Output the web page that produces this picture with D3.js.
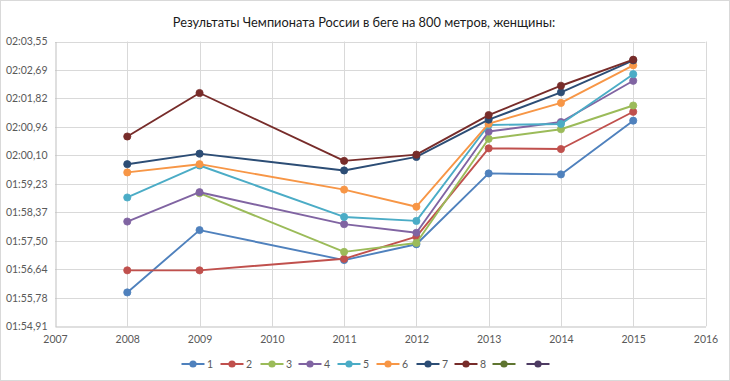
<!DOCTYPE html>
<html>
<head>
<meta charset="utf-8">
<script src="https://cdn.jsdelivr.net/npm/d3@7"></script>
<style>
  html, body { margin: 0; padding: 0; background: #fff; }
  svg { display: block; }
  text { font-family: Lato, "Open Sans", sans-serif; }
</style>
</head>
<body>
<script>
// ---- data ----
const years = [2008, 2009, 2011, 2012, 2013, 2014, 2015];
const seriesNames = ["1", "2", "3", "4", "5", "6", "7", "8", "", ""];
// results in seconds
const s1 = [115.94, 117.83, 116.92, 117.40, 119.55, 119.52, 121.15];
const s2 = [116.61, 116.61, 116.96, 117.63, 120.31, 120.29, 121.42];
const s3 = [null,   118.95, 117.17, 117.44, 120.60, 120.89, 121.61];
const s4 = [118.09, 118.98, 118.01, 117.75, 120.82, 121.11, 122.36];
const s5 = [118.82, 119.79, 118.23, 118.11, 121.02, 121.05, 122.56];
const s6 = [119.58, 119.83, 119.06, 118.54, 121.06, 121.69, 122.83];
const s7 = [119.83, 120.15, 119.64, 120.05, 121.18, 122.01, 122.98];
const s8 = [120.67, 121.99, 119.93, 120.12, 121.32, 122.21, 123.00];
const s9 = [];
const s10 = [];
const seriesValues = [s1, s2, s3, s4, s5, s6, s7, s8, s9, s10];
const colors = ["#4F81BD", "#C0504D", "#9BBB59", "#8064A2", "#4BACC6", "#F79646",
                "#2C4D75", "#772C2A", "#5F7530", "#4D3B62"];
const xTicks = [2007, 2008, 2009, 2010, 2011, 2012, 2013, 2014, 2015, 2016];
const yTickValues = [114.912, 115.776, 116.640, 117.504, 118.368, 119.232,
                     120.096, 120.960, 121.824, 122.688, 123.552];
const yTickLabels = ["01:54,91", "01:55,78", "01:56,64", "01:57,50", "01:58,37", "01:59,23",
                     "02:00,10", "02:00,96", "02:01,82", "02:02,69", "02:03,55"];
const title = "Результаты Чемпионата России в беге на 800 метров, женщины:";

// ---- layout ----
const W = 730, H = 381;
const svg = d3.select("body").append("svg").attr("width", W).attr("height", H);

svg.append("rect").attr("x", 0.5).attr("y", 0.5).attr("width", W - 1).attr("height", H - 1)
  .attr("fill", "#fff").attr("stroke", "#d9d9d9");

const x = d3.scaleLinear().domain([2007, 2016]).range([55, 705.5]);
const y = d3.scaleLinear().domain([yTickValues[0], yTickValues[yTickValues.length - 1]]).range([326.3, 41.5]);

// title
svg.append("text").attr("x", 364).attr("y", 27).attr("text-anchor", "middle")
  .attr("font-size", 12.8).attr("fill", "#1a1a1a").text(title);

// gridlines
const grid = svg.append("g");
grid.selectAll("line.h").data(yTickValues.slice(1)).join("line")
  .attr("x1", x(2007)).attr("x2", x(2016))
  .attr("y1", d => Math.round(y(d)) + 0.5).attr("y2", d => Math.round(y(d)) + 0.5)
  .attr("stroke", "#d9d9d9").attr("stroke-width", 1);
grid.selectAll("line.v").data(xTicks.slice(1)).join("line")
  .attr("y1", y.range()[0]).attr("y2", y.range()[1])
  .attr("x1", d => Math.round(x(d)) + 0.5).attr("x2", d => Math.round(x(d)) + 0.5)
  .attr("stroke", "#d9d9d9").attr("stroke-width", 1);

// axes
const yAxis = d3.axisLeft(y).tickValues(yTickValues)
  .tickFormat((d, i) => yTickLabels[i]).tickSize(0).tickPadding(8);
const gy = svg.append("g").attr("transform", `translate(${Math.round(x(2007)) + 0.5},0)`).call(yAxis);
gy.select(".domain").attr("stroke", "#bfbfbf");
gy.selectAll("text").attr("font-size", 10.5).attr("fill", "#595959")
  .style("font-family", "Lato, sans-serif");

const xAxis = d3.axisBottom(x).tickValues(xTicks).tickFormat(d3.format("d")).tickSize(0).tickPadding(9);
const gx = svg.append("g").attr("transform", `translate(0,${Math.round(y.range()[0]) + 0.5})`).call(xAxis);
gx.select(".domain").attr("stroke", "#bfbfbf");
gx.selectAll("text").attr("font-size", 10.5).attr("fill", "#595959")
  .style("font-family", "Lato, sans-serif");

// series
const line = d3.line()
  .defined(d => d.v != null)
  .x(d => x(d.year)).y(d => y(d.v));

seriesValues.forEach((vals, si) => {
  const pts = vals.map((v, i) => ({ year: years[i], v }));
  const g = svg.append("g");
  g.append("path").datum(pts).attr("d", line)
    .attr("fill", "none").attr("stroke", colors[si]).attr("stroke-width", 1.9)
    .attr("stroke-linejoin", "round").attr("stroke-linecap", "round");
  g.selectAll("circle").data(pts.filter(d => d.v != null)).join("circle")
    .attr("cx", d => x(d.year)).attr("cy", d => y(d.v)).attr("r", 3.6)
    .attr("fill", colors[si]).attr("stroke", colors[si]).attr("stroke-width", 0.8);
});

// legend
const legendX = [193, 232, 272, 310, 349, 388, 428, 466, 504, 538];
const ly = 364;
const lg = svg.append("g");
seriesNames.forEach((name, i) => {
  const cx = legendX[i];
  lg.append("line").attr("x1", cx - 11.5).attr("x2", cx + 11.5).attr("y1", ly).attr("y2", ly)
    .attr("stroke", colors[i]).attr("stroke-width", 2);
  lg.append("circle").attr("cx", cx).attr("cy", ly).attr("r", 3.6).attr("fill", colors[i]);
  if (name) {
    lg.append("text").attr("x", cx + 14).attr("y", ly + 4).attr("font-size", 10.5)
      .attr("fill", "#595959").text(name);
  }
});
</script>
</body>
</html>
